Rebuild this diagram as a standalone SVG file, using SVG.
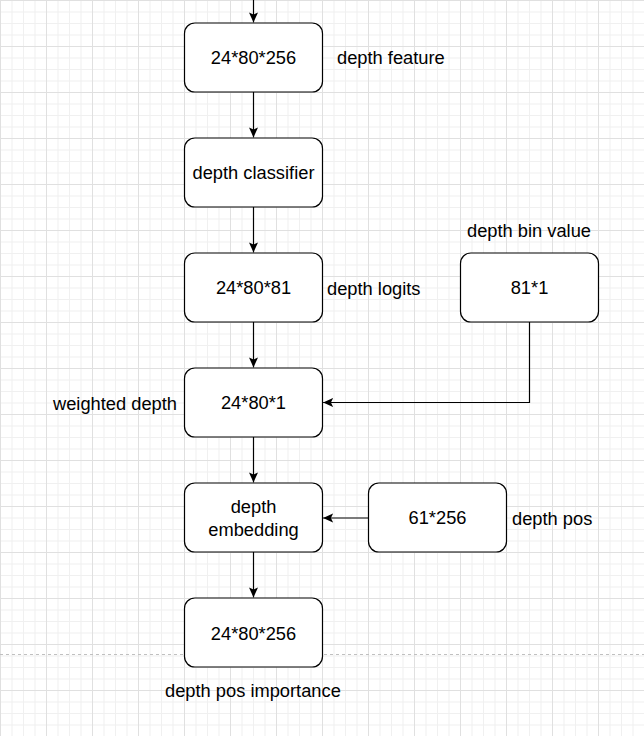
<svg xmlns="http://www.w3.org/2000/svg" width="644" height="736" viewBox="0 0 644 736">
<style>
.node rect{fill:#fff;stroke:#000;stroke-width:1.2}
text{font-family:"Liberation Sans",Arial,sans-serif;font-size:18.3px;fill:#000}
.c{text-anchor:middle}
.edge{fill:none;stroke:#000;stroke-width:1.2}
</style>
<defs>
<pattern id="grid" width="46" height="46" patternUnits="userSpaceOnUse">
<rect width="46" height="46" fill="#fff"/>
<g fill="#f0f0f0">
<rect x="11.5" y="0" width="1" height="46"/>
<rect x="23" y="0" width="1" height="46"/>
<rect x="34.5" y="0" width="1" height="46"/>
<rect x="0" y="11.5" width="46" height="1"/>
<rect x="0" y="23" width="46" height="1"/>
<rect x="0" y="34.5" width="46" height="1"/>
</g>
<g fill="#e0e0e0">
<rect x="0" y="0" width="1" height="46"/>
<rect x="0" y="0" width="46" height="1"/>
</g>
</pattern>
<marker id="arrow" markerUnits="userSpaceOnUse" markerWidth="12" markerHeight="12" viewBox="0 0 12 12" refX="10" refY="6" orient="auto">
<path d="M0,1.5 L10,6 L0,10.5 L2.2,6 Z" fill="#000"/>
</marker>
</defs>
<rect width="644" height="736" fill="url(#grid)"/>
<line x1="0" y1="654.5" x2="644" y2="654.5" stroke="#c0c0c0" stroke-width="1" stroke-dasharray="3,3"/>

<g id="connectors">
<path class="edge" d="M253.5,0 V22.4" marker-end="url(#arrow)"/>
<path class="edge" d="M253.5,92 V137.4" marker-end="url(#arrow)"/>
<path class="edge" d="M253.5,207 V252.4" marker-end="url(#arrow)"/>
<path class="edge" d="M253.5,322 V367.4" marker-end="url(#arrow)"/>
<path class="edge" d="M253.5,437 V482.4" marker-end="url(#arrow)"/>
<path class="edge" d="M253.5,552 V597.4" marker-end="url(#arrow)"/>
<path class="edge" d="M529.5,322 V402.5 H323.1" marker-end="url(#arrow)"/>
<path class="edge" d="M368.5,518 H323.1" marker-end="url(#arrow)"/>
</g>

<g id="n1" class="node"><rect x="184.5" y="23" width="138" height="69" rx="10.4"/><text class="c" x="253.5" y="64">24*80*256</text></g>
<g id="n2" class="node"><rect x="184.5" y="138" width="138" height="69" rx="10.4"/><text class="c" x="253.5" y="179">depth classifier</text></g>
<g id="n3" class="node"><rect x="184.5" y="253" width="138" height="69" rx="10.4"/><text class="c" x="253.5" y="294">24*80*81</text></g>
<g id="n4" class="node"><rect x="184.5" y="368" width="138" height="69" rx="10.4"/><text class="c" x="253.5" y="409">24*80*1</text></g>
<g id="n5" class="node"><rect x="184.5" y="483" width="138" height="69" rx="10.4"/><text class="c" x="253.5" y="513">depth</text><text class="c" x="253.5" y="535.5">embedding</text></g>
<g id="n6" class="node"><rect x="184.5" y="598" width="138" height="69" rx="10.4"/><text class="c" x="253.5" y="639.5">24*80*256</text></g>
<g id="n7" class="node"><rect x="460.5" y="253" width="138" height="69" rx="10.4"/><text class="c" x="529.5" y="294">81*1</text></g>
<g id="n8" class="node"><rect x="368.5" y="483" width="138" height="69" rx="10.4"/><text class="c" x="437.5" y="524">61*256</text></g>

<g id="labels">
<text x="337" y="64">depth feature</text>
<text x="327" y="295">depth logits</text>
<text class="c" x="529" y="237">depth bin value</text>
<text x="53" y="410">weighted depth</text>
<text x="512" y="525">depth pos</text>
<text x="165" y="697">depth pos importance</text>
</g>
</svg>
